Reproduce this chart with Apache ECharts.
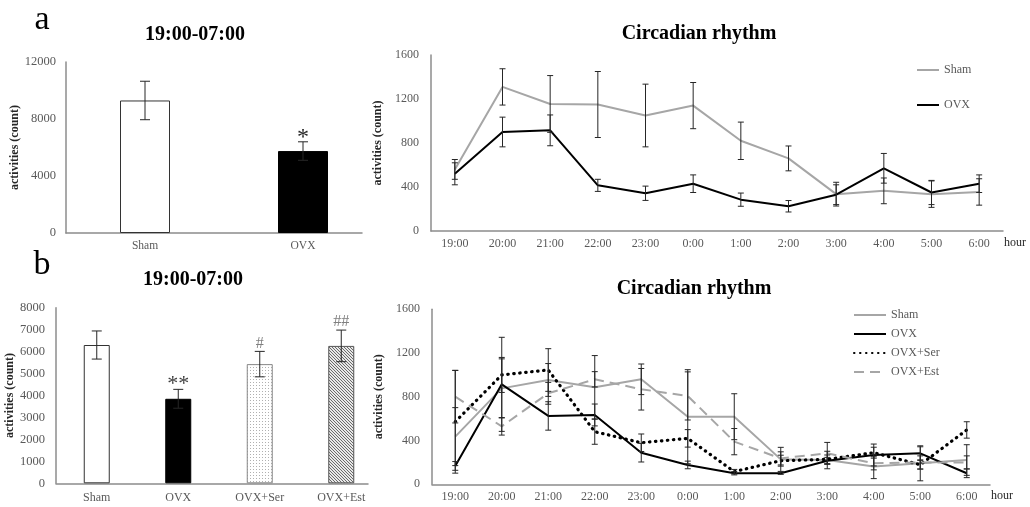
<!DOCTYPE html>
<html><head><meta charset="utf-8">
<script src="https://cdn.jsdelivr.net/npm/echarts@6/dist/echarts.min.js"></script>
<style>html,body{margin:0;padding:0;background:#fff}#c{width:1030px;height:507px}</style>
</head><body><div id="c"></div>
<script>
// ---------- data ----------
const groupsA = ['Sham', 'OVX'];
const totalA = [9300, 5750];
const totalAErr = [1350, 650];
const marksA = ['', '*'];

const groupsB = ['Sham', 'OVX', 'OVX+Ser', 'OVX+Est'];
const totalB = [6300, 3850, 5430, 6260];
const totalBErr = [640, 430, 580, 720];
const marksB = ['', '**', '#', '##'];

const hours = ['19:00','20:00','21:00','22:00','23:00','0:00','1:00','2:00','3:00','4:00','5:00','6:00'];

const shamA    = [560, 1310, 1155, 1150, 1050, 1140, 820, 660, 335, 365, 335, 355];
const shamAErr = [ 90,  165,  258,  300,  285,  210, 170, 113, 108, 117, 120, 120];
const ovxA     = [520,  900,  915,  415,  343,  430, 285, 225, 330, 570, 350, 430];
const ovxAErr  = [100,  135,  140,   55,   65,   80,  60,  52,  90, 135, 110,  80];

const shamB    = [436, 877, 954, 887, 960, 618, 618, 228, 222, 162, 192, 222];
const shamBErr = [265, 270, 150, 290, 140, 430, 210, 110,  80, 110, 160, 140];
const ovxB     = [168, 914, 625, 634, 289, 177, 101, 101, 216, 268, 283, 101];
const ovxBErr  = [ 40, 430, 130, 100,  85,  35,  15,  10,  30, 100,  60,  40];
const serB     = [572, 1000, 1045, 481, 380, 420, 116, 216, 228, 289, 179, 497];
const serBErr  = [470,  160,  195, 115,  80,  80,  20,  50,  40,  50,  40,  75];
const estB     = [801, 530, 832, 960, 869, 808, 390, 237, 283, 192, 200, 200];
const estBErr  = [240,  80, 100,  70, 190, 220, 120,  60, 100,  60,  60,  60];

// ---------- styling ----------
const SERIF = '"Liberation Serif","Times New Roman",serif';
const GRAY = '#a6a6a6';
const AX = '#8c8c8c';
const LBL = '#595959';

function dotPattern() {
  const c = document.createElement('canvas'); c.width = 3; c.height = 3;
  const g = c.getContext('2d'); g.fillStyle = '#fff'; g.fillRect(0, 0, 3, 3);
  g.fillStyle = '#b0b0b0'; g.fillRect(1, 1, 1, 1); return c;
}
function hatchPattern() {
  const c = document.createElement('canvas'); c.width = 3; c.height = 3;
  const g = c.getContext('2d'); g.fillStyle = '#e8e8e8'; g.fillRect(0, 0, 3, 3);
  g.fillStyle = '#6a6a6a'; for (let i = 0; i < 3; i++) g.fillRect(i, i, 1, 1); return c;
}
const barStylesA = [
  {color: '#fff', borderColor: '#333', borderWidth: 1},
  {color: '#000', borderColor: '#000', borderWidth: 1}
];
const barStylesB = [
  {color: '#fff', borderColor: '#333', borderWidth: 1},
  {color: '#000', borderColor: '#000', borderWidth: 1},
  {color: {image: dotPattern(), repeat: 'repeat'}, borderColor: '#888', borderWidth: 1},
  {color: {image: hatchPattern(), repeat: 'repeat'}, borderColor: '#555', borderWidth: 1}
];

function errData(vals, errs) { return vals.map((v, i) => [i, v - errs[i], v + errs[i]]); }

function errRender(cap, marks, markFont, markColor, markOff) {
  return function (params, api) {
    const x = api.value(0);
    const top = api.coord([x, api.value(2)]);
    const bot = api.coord([x, api.value(1)]);
    const st = {stroke: '#262626', lineWidth: 1};
    const ch = [
      {type: 'line', shape: {x1: top[0], y1: top[1], x2: bot[0], y2: bot[1]}, style: st},
      {type: 'line', shape: {x1: top[0] - cap, y1: top[1], x2: top[0] + cap, y2: top[1]}, style: st},
      {type: 'line', shape: {x1: bot[0] - cap, y1: bot[1], x2: bot[0] + cap, y2: bot[1]}, style: st}
    ];
    if (marks && marks[params.dataIndex]) {
      const m = marks[params.dataIndex];
      ch.push({type: 'text', style: {text: m, x: top[0], y: top[1] - markOff(m),
        align: 'center', verticalAlign: 'middle', font: markFont(m), fill: markColor(m)}});
    }
    return {type: 'group', children: ch};
  };
}

const yName = {fontFamily: SERIF, fontWeight: 'bold', fontSize: 12, color: '#262626'};
const tickLbl = (fs, m) => ({fontFamily: SERIF, fontSize: fs, color: LBL, margin: m, formatter: v => String(v)});

function valueAxis(gi, max, interval, labelSize, margin, nameGap) {
  return {gridIndex: gi, type: 'value', min: 0, max: max, interval: interval,
    splitLine: {show: false}, axisTick: {show: false},
    axisLine: {show: true, lineStyle: {color: AX, width: 1.5}},
    axisLabel: tickLbl(labelSize, margin),
    name: 'activities (count)', nameLocation: 'middle', nameGap: nameGap, nameTextStyle: yName};
}
function hiddenY(gi, max) { return {gridIndex: gi, type: 'value', min: 0, max: max, show: false}; }

const legendText = {fontFamily: SERIF, fontSize: 12, color: LBL};

const option = {
  animation: false,
  backgroundColor: '#fff',
  grid: [
    {left: 66, top: 62, width: 316, height: 171},
    {left: 66, top: 62, width: 296, height: 171},
    {left: 431, top: 55, width: 572, height: 176},
    {left: 56, top: 307.7, width: 326, height: 175.6},
    {left: 56, top: 307.7, width: 312, height: 175.6},
    {left: 432, top: 309.3, width: 558, height: 175}
  ],
  xAxis: [
    {gridIndex: 0, type: 'category', data: groupsA, axisLine: {show: false}, axisTick: {show: false},
      axisLabel: tickLbl(11.5, 7)},
    {gridIndex: 1, type: 'category', data: groupsA, axisTick: {show: false}, axisLabel: {show: false},
      axisLine: {lineStyle: {color: AX, width: 1.5}}},
    {gridIndex: 2, type: 'category', data: hours, axisTick: {show: false},
      axisLine: {lineStyle: {color: AX, width: 1.5}}, axisLabel: tickLbl(12, 7),
      name: 'hour', nameLocation: 'end', nameGap: 1,
      nameTextStyle: {fontFamily: SERIF, fontSize: 12, color: '#262626', verticalAlign: 'top', padding: [6, 0, 0, 0]}},
    {gridIndex: 3, type: 'category', data: groupsB, axisLine: {show: false}, axisTick: {show: false},
      axisLabel: tickLbl(12, 9)},
    {gridIndex: 4, type: 'category', data: groupsB, axisTick: {show: false}, axisLabel: {show: false},
      axisLine: {lineStyle: {color: AX, width: 1.5}}},
    {gridIndex: 5, type: 'category', data: hours, axisTick: {show: false},
      axisLine: {lineStyle: {color: AX, width: 1.5}}, axisLabel: tickLbl(12, 7),
      name: 'hour', nameLocation: 'end', nameGap: 1,
      nameTextStyle: {fontFamily: SERIF, fontSize: 12, color: '#262626', verticalAlign: 'top', padding: [6, 0, 0, 0]}}
  ],
  yAxis: [
    valueAxis(0, 12000, 4000, 12.5, 10, 42),
    hiddenY(1, 12000),
    valueAxis(2, 1600, 400, 12, 12, 37),
    valueAxis(3, 8000, 1000, 12.5, 11, 36),
    hiddenY(4, 8000),
    valueAxis(5, 1600, 400, 12, 12, 37)
  ],
  legend: [
    {data: ['Sham', 'OVX'], orient: 'vertical', left: 916, top: 64, itemWidth: 22, itemHeight: 14, itemGap: 23,
      padding: 0, itemStyle: {opacity: 0}, textStyle: legendText},
    {data: ['Sham', 'OVX', 'OVX+Ser', 'OVX+Est'], orient: 'vertical', left: 853, top: 309, itemWidth: 32,
      itemHeight: 12, itemGap: 7, padding: 0, itemStyle: {opacity: 0}, textStyle: legendText}
  ],
  graphic: [
    {type: 'text', x: 42, y: 20, style: {text: 'a', font: '34px ' + SERIF, fill: '#000', align: 'center', verticalAlign: 'middle'}},
    {type: 'text', x: 42, y: 265, style: {text: 'b', font: '34px ' + SERIF, fill: '#000', align: 'center', verticalAlign: 'middle'}},
    {type: 'text', x: 195, y: 34.5, style: {text: '19:00-07:00', font: 'bold 20px ' + SERIF, fill: '#000', align: 'center', verticalAlign: 'middle'}},
    {type: 'text', x: 193, y: 280, style: {text: '19:00-07:00', font: 'bold 20px ' + SERIF, fill: '#000', align: 'center', verticalAlign: 'middle'}},
    {type: 'text', x: 699, y: 33.5, style: {text: 'Circadian rhythm', font: 'bold 20px ' + SERIF, fill: '#000', align: 'center', verticalAlign: 'middle'}},
    {type: 'text', x: 694, y: 288.5, style: {text: 'Circadian rhythm', font: 'bold 20px ' + SERIF, fill: '#000', align: 'center', verticalAlign: 'middle'}}
  ],
  series: []
};

// panel a bars
option.series.push({name: 'total-a', type: 'bar', xAxisIndex: 0, yAxisIndex: 0, barWidth: 50,
  data: totalA.map((v, i) => ({value: v, itemStyle: barStylesA[i]}))});
option.series.push({name: 'err-total-a', type: 'custom', xAxisIndex: 0, yAxisIndex: 0, z: 5,
  renderItem: errRender(5, marksA, () => '24px ' + SERIF, () => '#262626', () => 4),
  encode: {x: 0, y: [1, 2]}, data: errData(totalA, totalAErr)});
// panel b bars
option.series.push({name: 'total-b', type: 'bar', xAxisIndex: 3, yAxisIndex: 3, barWidth: 26,
  data: totalB.map((v, i) => ({value: v, itemStyle: barStylesB[i]}))});
option.series.push({name: 'err-total-b', type: 'custom', xAxisIndex: 3, yAxisIndex: 3, z: 5,
  renderItem: errRender(5, marksB,
    m => (m[0] === '*' ? '22px ' : '16px ') + SERIF,
    m => (m[0] === '*' ? '#404040' : '#808080'),
    m => (m[0] === '*' ? 5 : 8)),
  encode: {x: 0, y: [1, 2]}, data: errData(totalB, totalBErr)});

// line series
function lineSeries(name, xi, vals, color, type, width, cap) {
  return {name: name, type: 'line', xAxisIndex: xi, yAxisIndex: xi, data: vals, symbol: 'none',
    lineStyle: {color: color, width: width, type: type, cap: cap || 'butt'}, itemStyle: {color: color}, z: 3};
}
function errSeries(name, xi, vals, errs) {
  return {name: name, type: 'custom', xAxisIndex: xi, yAxisIndex: xi, z: 4,
    renderItem: errRender(3), encode: {x: 0, y: [1, 2]}, data: errData(vals, errs)};
}
option.series.push(lineSeries('Sham', 2, shamA, GRAY, 'solid', 2));
option.series.push(lineSeries('OVX', 2, ovxA, '#000', 'solid', 2));
option.series.push(errSeries('err-sham-a', 2, shamA, shamAErr));
option.series.push(errSeries('err-ovx-a', 2, ovxA, ovxAErr));

option.series.push(lineSeries('Sham', 5, shamB, GRAY, 'solid', 2));
option.series.push(lineSeries('OVX', 5, ovxB, '#000', 'solid', 2));
option.series.push(lineSeries('OVX+Ser', 5, serB, '#000', [0.5, 5.5], 3.2, 'round'));
option.series.push(lineSeries('OVX+Est', 5, estB, GRAY, [10, 6], 2));
option.series.push(errSeries('err-sham-b', 5, shamB, shamBErr));
option.series.push(errSeries('err-ovx-b', 5, ovxB, ovxBErr));
option.series.push(errSeries('err-ser-b', 5, serB, serBErr));
option.series.push(errSeries('err-est-b', 5, estB, estBErr));

const chart = echarts.init(document.getElementById('c'), null, {renderer: 'canvas'});
chart.setOption(option);
</script>
</body></html>
